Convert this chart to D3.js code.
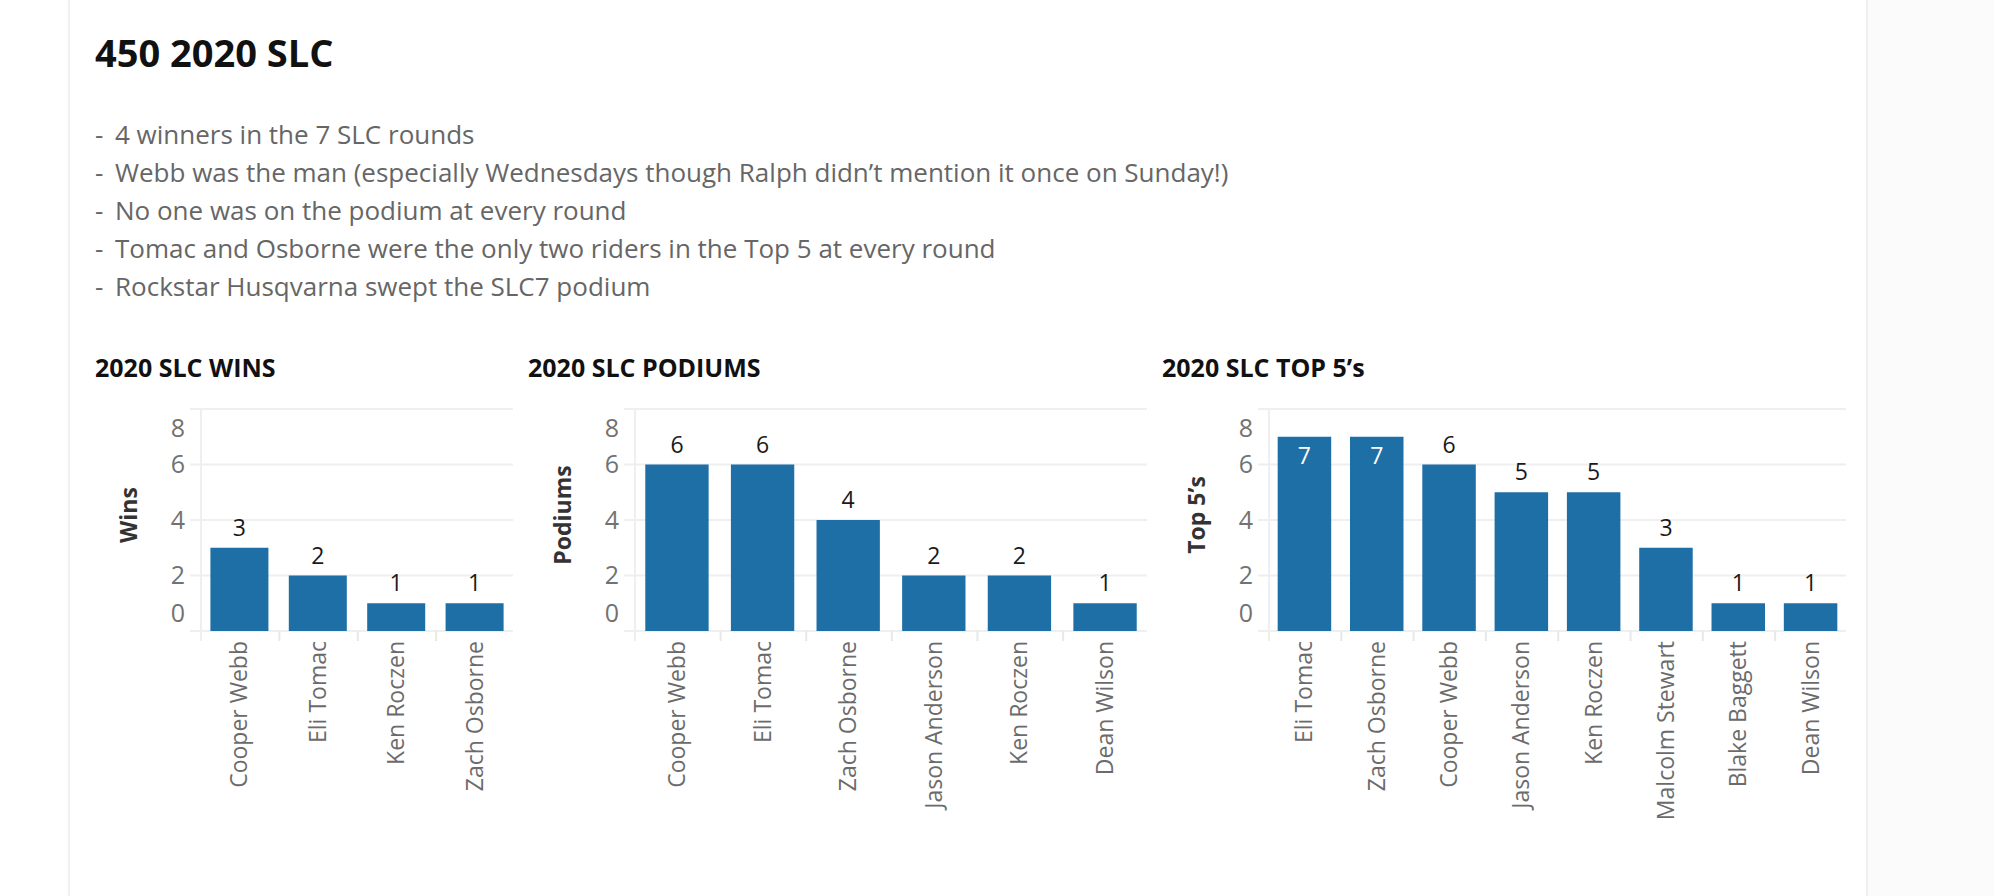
<!DOCTYPE html>
<html>
<head>
<meta charset="utf-8">
<script src="https://cdn.jsdelivr.net/npm/d3@7"></script>
<style>
  html, body { margin: 0; padding: 0; background: #ffffff; }
  svg { display: block; }
  text { font-family: "Open Sans", "Noto Sans", sans-serif; }
</style>
</head>
<body>
<svg id="chart" width="1994" height="896"></svg>
<script>
// ---------- DATA ----------
const pageTitle = "450 2020 SLC";
const bullets = [
  "4 winners in the 7 SLC rounds",
  "Webb was the man (especially Wednesdays though Ralph didn\u2019t mention it once on Sunday!)",
  "No one was on the podium at every round",
  "Tomac and Osborne were the only two riders in the Top 5 at every round",
  "Rockstar Husqvarna swept the SLC7 podium"
];
const yTicks = [0, 2, 4, 6, 8];

const winsRiders = ["Cooper Webb", "Eli Tomac", "Ken Roczen", "Zach Osborne"];
const winsValues = [3, 2, 1, 1];

const podiumRiders = ["Cooper Webb", "Eli Tomac", "Zach Osborne", "Jason Anderson", "Ken Roczen", "Dean Wilson"];
const podiumValues = [6, 6, 4, 2, 2, 1];

const top5Riders = ["Eli Tomac", "Zach Osborne", "Cooper Webb", "Jason Anderson", "Ken Roczen", "Malcolm Stewart", "Blake Baggett", "Dean Wilson"];
const top5Values = [7, 7, 6, 5, 5, 3, 1, 1];

const chartTitles = ["2020 SLC WINS", "2020 SLC PODIUMS", "2020 SLC TOP 5\u2019s"];
const axisTitles = ["Wins", "Podiums", "Top 5\u2019s"];

// ---------- LAYOUT ----------
const BAR = "#1f6fa7";
const GRID = "#efefef";
const svg = d3.select("#chart");

// card frame
svg.append("rect").attr("x", 1868).attr("y", 0).attr("width", 126).attr("height", 896).attr("fill", "#fbfbfb");
svg.append("line").attr("x1", 69).attr("x2", 69).attr("y1", 0).attr("y2", 896).attr("stroke", "#f0f0f0").attr("stroke-width", 2);
svg.append("line").attr("x1", 1867).attr("x2", 1867).attr("y1", 0).attr("y2", 896).attr("stroke", "#efefef").attr("stroke-width", 2);

// header
svg.append("text").attr("x", 95).attr("y", 67).text(pageTitle)
  .attr("font-size", 38).attr("font-weight", 700).attr("fill", "#111");

const bulletG = svg.append("g");
bullets.forEach((b, i) => {
  const yy = 144 + i * 38;
  bulletG.append("text").attr("x", 95).attr("y", yy).text("-")
    .attr("font-size", 26).attr("fill", "#666");
  bulletG.append("text").attr("x", 115).attr("y", yy).text(b)
    .attr("font-size", 26).attr("fill", "#666");
});

// charts
const y = d3.scaleLinear().domain([0, 8]).range([631, 409]);

const charts = [
  { riders: winsRiders, values: winsValues, titleX: 95, axisX: 201, endX: 513 },
  { riders: podiumRiders, values: podiumValues, titleX: 528, axisX: 635, endX: 1147 },
  { riders: top5Riders, values: top5Values, titleX: 1162, axisX: 1269, endX: 1846 }
];

charts.forEach((c, ci) => {
  const g = svg.append("g");
  const x = d3.scaleBand().domain(c.riders).range([c.axisX, c.endX])
    .paddingInner(0.26).paddingOuter(0.12);

  // title
  g.append("text").attr("x", c.titleX).attr("y", 377).text(chartTitles[ci])
    .attr("font-size", 25).attr("font-weight", 700).attr("fill", "#111");

  // gridlines
  g.selectAll(".grid").data(yTicks).enter().append("line")
    .attr("x1", c.axisX - 11).attr("x2", c.endX)
    .attr("y1", d => y(d)).attr("y2", d => y(d))
    .attr("stroke", GRID).attr("stroke-width", 2);

  // vertical axis line
  g.append("line").attr("x1", c.axisX).attr("x2", c.axisX)
    .attr("y1", y(8)).attr("y2", 641).attr("stroke", GRID).attr("stroke-width", 2);

  // category separators
  const step = x.step();
  g.selectAll(".sep").data(c.riders.slice(1)).enter().append("line")
    .attr("x1", (d, i) => c.axisX + (i + 1) * step)
    .attr("x2", (d, i) => c.axisX + (i + 1) * step)
    .attr("y1", y(0)).attr("y2", 641)
    .attr("stroke", "#e8e8e8").attr("stroke-width", 2);

  // y tick labels (clamped inside plot like Tableau)
  const yAxis = d3.axisLeft(y).tickValues(yTicks).tickSize(0).tickPadding(0);
  const ax = g.append("g").attr("transform", `translate(${c.axisX - 16},0)`).call(yAxis);
  ax.select(".domain").remove();
  ax.selectAll(".tick")
    .attr("transform", d => `translate(0,${Math.max(y(8) + 19, Math.min(y(0) - 18, y(d)))})`);
  ax.selectAll(".tick text")
    .attr("font-family", "\"Open Sans\", sans-serif")
    .attr("font-size", 25).attr("fill", "#727272").attr("dy", "0.35em");

  // axis title
  g.append("text")
    .attr("transform", `translate(${c.axisX - 64},515) rotate(-90)`)
    .attr("text-anchor", "middle")
    .text(axisTitles[ci])
    .attr("font-size", 23).attr("font-weight", 700).attr("fill", "#333");

  // bars
  const data = c.riders.map((r, i) => ({ r, v: c.values[i] }));
  g.selectAll(".bar").data(data).enter().append("rect")
    .attr("x", d => x(d.r)).attr("width", x.bandwidth())
    .attr("y", d => y(d.v)).attr("height", d => y(0) - y(d.v))
    .attr("fill", BAR);

  // value labels
  const inside = d => (y(d.v) - 28 < y(8));
  g.selectAll(".val").data(data).enter().append("text")
    .attr("x", d => x(d.r) + x.bandwidth() / 2)
    .attr("y", d => inside(d) ? y(d.v) + 27 : y(d.v) - 12)
    .attr("text-anchor", "middle")
    .attr("font-size", 23)
    .attr("fill", d => inside(d) ? "#ffffff" : "#1a1a1a")
    .text(d => d.v);

  // x labels
  g.selectAll(".xl").data(c.riders).enter().append("text")
    .attr("transform", d => `translate(${x(d) + x.bandwidth() / 2},641) rotate(-90)`)
    .attr("text-anchor", "end")
    .attr("dy", "0.35em")
    .attr("font-size", 23).attr("fill", "#6b6b6b")
    .text(d => d);
});
</script>
</body>
</html>
